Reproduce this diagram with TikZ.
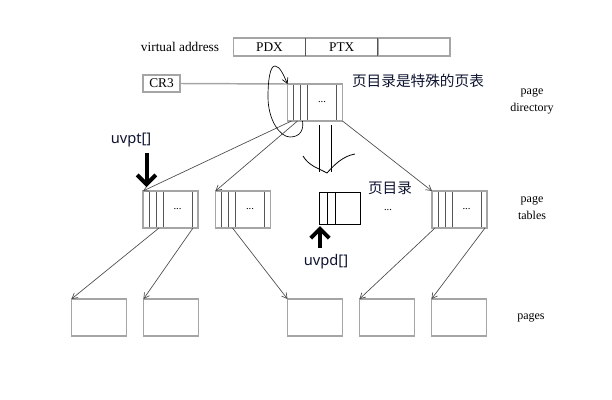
\documentclass[tikz,border=0pt]{standalone}
\usepackage{fontspec}
\setmainfont{Liberation Serif}
\newfontfamily\cjkfont{Noto Sans CJK SC}
\newfontfamily\uifont{Noto Sans}
\usetikzlibrary{arrows.meta,calc,positioning}
\definecolor{boxgray}{RGB}{165,165,165}
\definecolor{stripegray}{RGB}{85,85,85}
\definecolor{linegray}{RGB}{75,75,75}
\definecolor{notenavy}{RGB}{14,20,48}
\tikzset{
  cell/.style = {draw=boxgray, line width=1.1pt, inner sep=0pt, outer sep=0pt,
    font=\fontsize{10}{12}\selectfont},
  addr_cell/.style = {cell, minimum width=54.2pt, minimum height=13.5pt},% champ de l'adresse
  tbl_box/.style = {cell, minimum width=41.25pt, minimum height=27.75pt,
    path picture={
      \foreach \s in {6,13,20}
        \draw[stripegray, line width=0.7pt]
          ($(path picture bounding box.north west)+(\s,0)$) --
          ($(path picture bounding box.south west)+(\s,0)$);
      \draw[stripegray, line width=0.7pt]
          ($(path picture bounding box.north east)+(-6,0)$) --
          ($(path picture bounding box.south east)+(-6,0)$);
      \node[font=\fontsize{8}{9}\selectfont] at ($(path picture bounding box.center)+(7,0)$) {...};
    }},% table avec ses entrees
  mid_box/.style = {draw=black, line width=0.6pt, inner sep=0pt, outer sep=0pt,
    minimum width=30.75pt, minimum height=24pt,
    path picture={
      \foreach \s in {8,16}
        \draw[black, line width=0.6pt]
          ($(path picture bounding box.north west)+(\s,0)$) --
          ($(path picture bounding box.south west)+(\s,0)$);
    }},
  pg_box/.style = {cell, minimum width=41.25pt, minimum height=27.75pt},
  side_lbl/.style = {align=center, font=\fontsize{9}{12.5}\selectfont},
  note_cjk/.style = {text=notenavy, font=\cjkfont\fontsize{11}{13}\selectfont},
  note_ui/.style = {text=notenavy, font=\uifont\fontsize{11}{13}\selectfont},
  conn/.style = {draw=linegray, line width=0.5pt,
    -{Straight Barb[length=4pt,width=4.5pt]}},
  big_arrow/.style = {line width=3pt, -{Straight Barb[length=7pt,width=14pt]}},
}
\begin{document}
\begin{tikzpicture}[x=0.75pt,y=-0.75pt]
\useasboundingbox (0,0) rectangle (612,400);

% virtual address
\node[font=\fontsize{10}{12}\selectfont] (va) at (180,47) {virtual address};
\node[addr_cell] (pdx) at (269.5,47) {PDX};
\node[addr_cell, right=0pt of pdx] (ptx) {PTX};
\node[addr_cell, right=0pt of ptx] (off) {};
\draw[stripegray, line width=0.8pt] (pdx.north east) -- (pdx.south east);
\draw[stripegray, line width=0.8pt] (ptx.north east) -- (ptx.south east);

% CR3 and page directory
\node[cell, minimum width=27.75pt, minimum height=12.75pt] (cr3) at (161.5,83.5) {CR3};
\node[tbl_box] (pd) at (315,102.5) {};
\draw[draw=boxgray, line width=1.1pt] (cr3.east) -- (pd.north west);
\draw[line width=0.5pt, -{Straight Barb[length=4pt,width=4.5pt]}]
  ($(pd.south west)+(15,0)$) .. controls (304,130) and (300,137) .. (290,137)
  .. controls (280,137) and (268,120) .. (268,97)
  .. controls (268,80) and (270,66) .. (275,66)
  .. controls (280,66) and (284,76) .. (pd.north west);
\node[note_cjk] (note1) at (418,81) {页目录是特殊的页表};
\node[side_lbl] (lbl_pd) at (532,101) {page\\directory};

% big hand drawn arrow
\draw[line width=0.6pt] (319,125) -- (319,172);
\draw[line width=0.6pt] (331,125) -- (331,172);
\draw[line width=0.6pt] (303,156) .. controls (309,166) and (318,168) .. (327,173)
  .. controls (334,165) and (343,156) .. (355,154);

% page tables
\node[tbl_box] (pt1) at (170.5,209.5) {};
\node[tbl_box] (pt2) at (243,209.5) {};
\node[mid_box] (mid) at (339.5,208) {};
\node[tbl_box] (pt4) at (459.5,209.5) {};
\node[font=\fontsize{8}{9}\selectfont] (dots) at (388,210) {...};
\node[note_cjk] (note2) at (390,188) {页目录};
\node[side_lbl] (lbl_pt) at (532,208) {page\\tables};

\draw[conn] ($(pd.south west)+(4,0)$) -- (pt1.north west);
\draw[conn] ($(pd.south west)+(10,0)$) -- (pt2.north west);
\draw[conn] (pd.south east) -- (pt4.north west);

% uvpt[] and uvpd[]
\node[note_ui] (uvpt) at (131,140) {uvpt[]};
\draw[big_arrow] ($(pt1.north west)+(3.5,-38)$) -- ($(pt1.north west)+(3.5,-4)$);
\node[note_ui] (uvpd) at (326,262) {uvpd[]};
\draw[big_arrow] ($(mid.south west)+(1,24)$) -- ($(mid.south west)+(1,2)$);

% pages
\foreach \i/\x in {1/99,2/171,3/315,4/387,5/459}
  \node[pg_box] (pg\i) at (\x,317.5) {};
\node[side_lbl] (lbl_pg) at (531,318) {pages};

\draw[conn] ($(pt1.south west)+(16,0)$) -- (pg1.north west);
\draw[conn] ($(pt1.south east)+(-5,0)$) -- (pg2.north west);
\draw[conn] ($(pt2.south west)+(17,0)$) -- (pg3.north west);
\draw[conn] ($(pt4.south west)+(3,0)$) -- (pg4.north west);
\draw[conn] ($(pt4.south east)+(-2,0)$) -- (pg5.north west);
\end{tikzpicture}
\end{document}
